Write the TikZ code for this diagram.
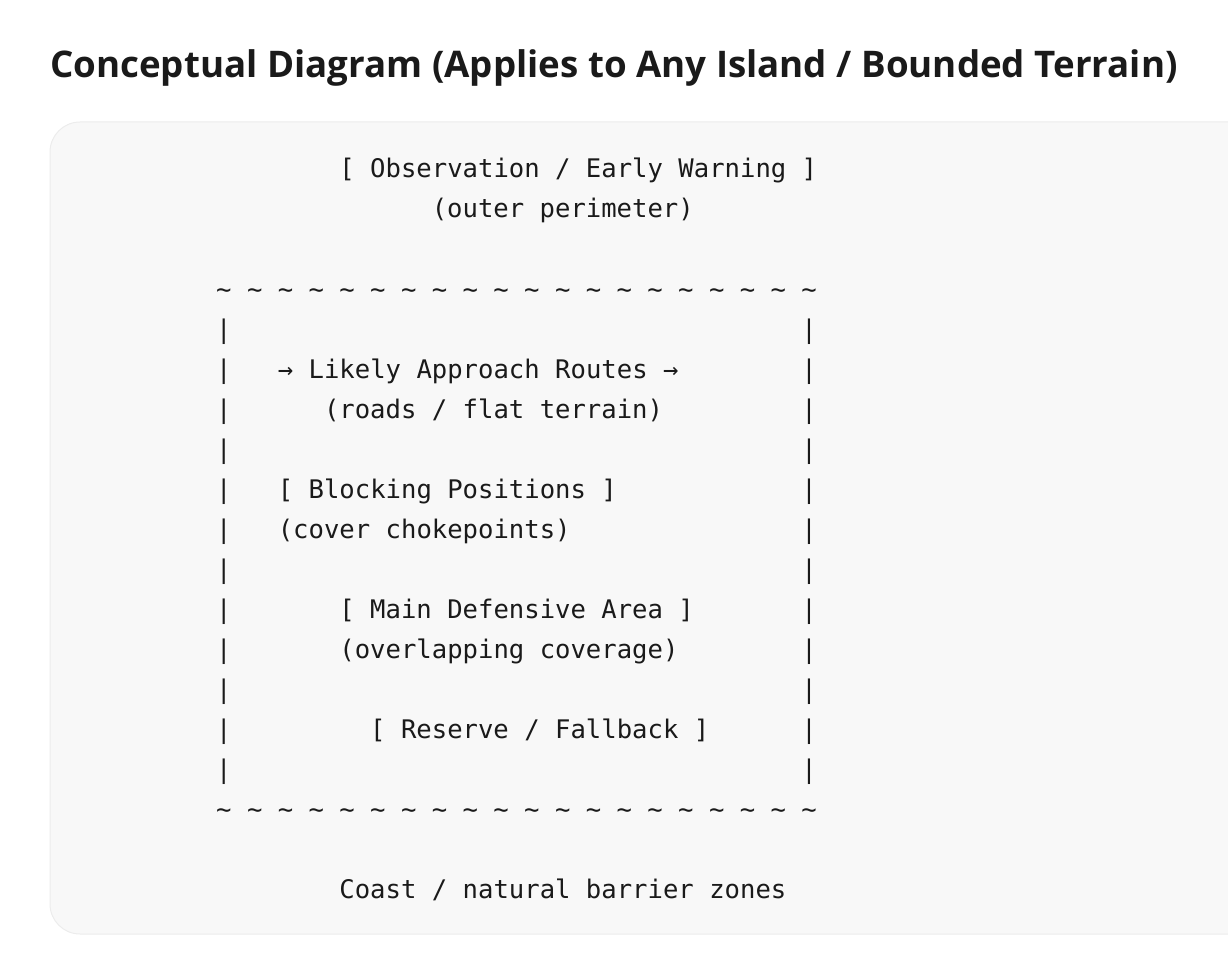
\documentclass[tikz,border=0pt]{standalone}
\usepackage{fontspec}
\setmainfont{Open Sans}
\setmonofont{DejaVu Sans Mono}
\usetikzlibrary{positioning}
\definecolor{codebg}{RGB}{248, 248, 248}
\definecolor{codeframe}{RGB}{236, 236, 236}
\definecolor{ink}{RGB}{26, 26, 26}
\tikzstyle{heading} = [anchor=base west, inner sep=0pt, text=ink, font=\fontsize{36.7}{44}\selectfont\bfseries]
\tikzstyle{ascii} = [anchor=base west, inner sep=0pt, text=ink, font=\fontsize{25.6}{40}\selectfont\ttfamily]
\tikzstyle{codebox} = [fill=codebg, draw=codeframe, line width=1pt, rounded corners=30pt]

\begin{document}
\begin{tikzpicture}
\useasboundingbox (0,0) rectangle (1228pt,-960pt);

% title and code block =============================
\node[heading] (title) at (50pt,-78pt) {Conceptual Diagram (Applies to Any Island / Bounded Terrain)};
\path[codebox] (50pt,-122pt) rectangle (1280pt,-934pt);

% one unit = one character column / one text row
\begin{scope}[shift={(216pt,-178pt)}, x=15.4pt, y=-40pt]

% outer perimeter
\node[ascii] (obs) at (8,0) {[ Observation / Early Warning ]};
\node[ascii] (outer) at (14,1) {(outer perimeter)};

% coast lines
\foreach \i in {0,...,19} {
  \node[ascii] (ttop\i) at (2*\i,3) {\textasciitilde};
  \node[ascii] (tbot\i) at (2*\i,16) {\textasciitilde};
}

% side walls
\foreach \r in {4,...,15} {
  \node[ascii] (wl\r) at (0,\r) {|};
  \node[ascii] (wr\r) at (38,\r) {|};
}

% inner zones
\node[ascii] (approach) at (4,5) {→ Likely Approach Routes →};
\node[ascii] (roads) at (7,6) {(roads / flat terrain)};
\node[ascii] (block) at (4,8) {[ Blocking Positions ]};
\node[ascii] (choke) at (4,9) {(cover chokepoints)};
\node[ascii] (main) at (8,11) {[ Main Defensive Area ]};
\node[ascii] (overlap) at (8,12) {(overlapping coverage)};
\node[ascii] (reserve) at (10,14) {[ Reserve / Fallback ]};

% coast
\node[ascii] (coast) at (8,18) {Coast / natural barrier zones};

\end{scope}

\end{tikzpicture}
\end{document}
